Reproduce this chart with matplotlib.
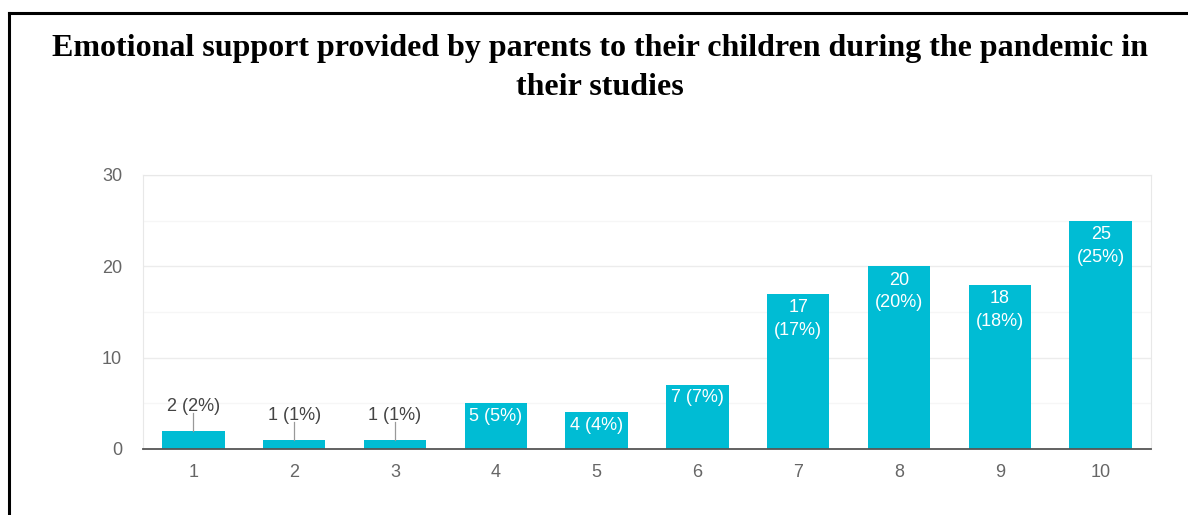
import matplotlib.pyplot as plt
from matplotlib.lines import Line2D

scores = ["1", "2", "3", "4", "5", "6", "7", "8", "9", "10"]
counts = [2, 1, 1, 5, 4, 7, 17, 20, 18, 25]
percents = [2, 1, 1, 5, 4, 7, 17, 20, 18, 25]

bar_color = "#00bcd4"
tick_color = "#666666"

plt.rcParams["font.family"] = ["Liberation Sans", "DejaVu Sans"]

fig = plt.figure(figsize=(11.88, 5.15), dpi=100)
ax = fig.add_axes([0.1204, 0.1282, 0.8485, 0.532])

x = list(range(1, len(scores) + 1))
bars = ax.bar(x, counts, width=0.62, color=bar_color, zorder=3)

ax.set_xlim(0.5, 10.5)
ax.set_ylim(0, 30)
ax.set_yticks([0, 10, 20, 30])
ax.set_yticks([5, 15, 25], minor=True)
ax.set_xticks(x)
ax.set_xticklabels(scores)
ax.tick_params(axis="both", which="both", length=0, colors=tick_color, labelsize=13)
ax.tick_params(axis="x", pad=11)
ax.tick_params(axis="y", pad=15)
ax.grid(axis="y", which="major", color="#ececec", linewidth=1, zorder=0)
ax.grid(axis="y", which="minor", color="#f6f6f6", linewidth=1, zorder=0)

for side in ["left", "top", "right"]:
    ax.spines[side].set_color("#e8e8e8")
ax.spines["bottom"].set_color("#555555")
ax.spines["bottom"].set_linewidth(1.3)
ax.spines["bottom"].set_zorder(4)

# value labels
for xi, c, p in zip(x, counts, percents):
    if c <= 2:
        ax.plot([xi, xi], [c, c + 1.9], color="#999999", linewidth=0.9, zorder=4)
        ax.text(xi, c + 2.7, f"{c} ({p}%)", ha="center", va="center",
                fontsize=13, color="#444444")
    elif c < 10:
        ax.text(xi, c - 1.4, f"{c} ({p}%)", ha="center", va="center",
                fontsize=13, color="white", zorder=5)
    else:
        ax.text(xi, c - 1.5, f"{c}", ha="center", va="center",
                fontsize=13, color="white", zorder=5)
        ax.text(xi, c - 4.0, f"({p}%)", ha="center", va="center",
                fontsize=13, color="white", zorder=5)

fig.text(0.505, 0.868, "Emotional support provided by parents to their children during the pandemic in\ntheir studies",
         ha="center", va="center", fontsize=23, fontweight="bold",
         family="Liberation Serif", linespacing=1.45)

# black frame around the figure (left and top)
fig.add_artist(Line2D([0.0076, 0.0076], [0.0, 0.975], color="black", linewidth=2.2))
fig.add_artist(Line2D([0.0076, 1.0], [0.975, 0.975], color="black", linewidth=2.2))

fig.savefig("out.png", dpi=100)
